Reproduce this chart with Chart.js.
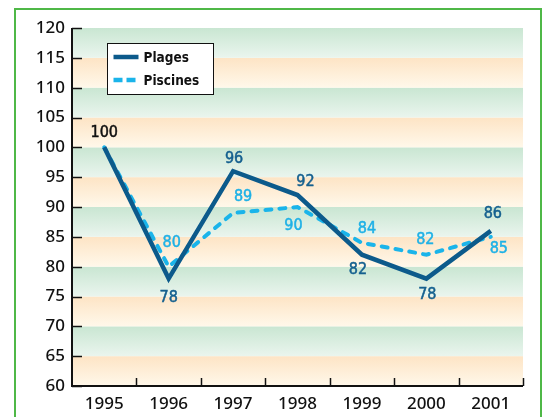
<!DOCTYPE html>
<html>
<head>
<meta charset="utf-8">
<script src="https://cdn.jsdelivr.net/npm/chart.js@4/dist/chart.umd.min.js"></script>
<style>
  html, body { margin: 0; padding: 0; background: #ffffff; overflow: hidden; }
  #wrap { position: relative; width: 542px; height: 417px; }
  #frame { position: absolute; left: 14px; top: 8px; width: 524px; height: 420px;
           border: 2px solid #4fb847; border-bottom: none; }
  canvas { position: absolute; left: 0; top: 0; }
</style>
</head>
<body>
<div id="wrap">
  <div id="frame"></div>
  <canvas id="c" width="542" height="417"></canvas>
</div>
<script>
// Fréquentation indexée (base 100 en 1995)
const years = ['1995', '1996', '1997', '1998', '1999', '2000', '2001'];
const plages = [100, 78, 96, 92, 82, 78, 86];
const piscines = [100, 80, 89, 90, 84, 82, 85];
const yTicks = [60, 65, 70, 75, 80, 85, 90, 95, 100, 105, 110, 115, 120];

const NARROW = '"Liberation Sans Narrow", "DejaVu Sans Condensed", "Liberation Sans", sans-serif';
const REGULAR = '"Noto Sans", "Liberation Sans", Arial, sans-serif';

// Where each value label sits relative to its point (dx, dy), null = not drawn
const labelOffsets = [
  [[0, -14], [0, 19], [1, -12], [8, -13], [-4, 15], [1, 16], [2, -17]],
  [null, [3, -24], [10, -16], [-4, 19], [5, -14], [-1, -15], [8, 12]]
];
const labelColors = ['#15608f', '#1fb1e6'];

// Alternating green / peach bands, each fading toward the bottom
const bandsPlugin = {
  id: 'bands',
  beforeDatasetsDraw(chart) {
    const { ctx, chartArea: a, scales: { y } } = chart;
    ctx.save();
    for (let i = 0; i < yTicks.length - 1; i++) {
      const lo = yTicks[i], hi = yTicks[i + 1];
      const top = y.getPixelForValue(hi), bot = y.getPixelForValue(lo);
      const k = (120 - hi) / 5;
      const g = ctx.createLinearGradient(0, top, 0, bot);
      if (k % 2 === 0) { g.addColorStop(0, '#c9e6d2'); g.addColorStop(1, '#eaf5ee'); }
      else { g.addColorStop(0, '#fde4c5'); g.addColorStop(1, '#fff8ea'); }
      ctx.fillStyle = g;
      ctx.fillRect(a.left, top, a.right - a.left, bot - top);
    }
    // axis lines
    ctx.strokeStyle = '#111';
    ctx.lineWidth = 2;
    ctx.beginPath();
    ctx.moveTo(a.left, a.top);
    ctx.lineTo(a.left, a.bottom);
    ctx.lineTo(a.right, a.bottom);
    ctx.stroke();
    // inward tick marks on the value axis
    ctx.lineWidth = 1.5;
    yTicks.forEach(v => {
      const py = Math.round(y.getPixelForValue(v)) + 0.5;
      ctx.beginPath();
      ctx.moveTo(a.left, py);
      ctx.lineTo(a.left + 10, py);
      ctx.stroke();
    });
    // upward tick marks between years
    const x = chart.scales.x;
    for (let i = 1; i <= years.length; i++) {
      const px = i < years.length
        ? (x.getPixelForValue(i - 1) + x.getPixelForValue(i)) / 2
        : a.right;
      ctx.beginPath();
      ctx.moveTo(Math.round(px) + 0.5, a.bottom);
      ctx.lineTo(Math.round(px) + 0.5, a.bottom - 8);
      ctx.stroke();
    }
    ctx.restore();
  }
};

// Value labels beside the points
const valueLabelsPlugin = {
  id: 'valueLabels',
  afterDatasetsDraw(chart) {
    const { ctx } = chart;
    ctx.save();
    ctx.font = '16px ' + NARROW;
    ctx.textAlign = 'center';
    ctx.textBaseline = 'middle';
    ctx.lineWidth = 0.5;
    chart.data.datasets.forEach((ds, di) => {
      const meta = chart.getDatasetMeta(di);
      meta.data.forEach((pt, i) => {
        const off = labelOffsets[di][i];
        if (!off) return;
        const shared = plages[i] === piscines[i];
        const col = shared ? '#111' : labelColors[di];
        ctx.fillStyle = col;
        ctx.strokeStyle = col;
        const tx = pt.x + off[0], ty = pt.y + off[1];
        ctx.fillText(String(ds.data[i]), tx, ty);
        ctx.strokeText(String(ds.data[i]), tx, ty);
      });
    });
    ctx.restore();
  }
};

// Boxed legend in the upper left of the plot
const boxLegendPlugin = {
  id: 'boxLegend',
  afterDraw(chart) {
    const { ctx, chartArea: a } = chart;
    const bx = a.left + 35.5, by = a.top + 15.5, bw = 106, bh = 51;
    ctx.save();
    ctx.fillStyle = '#ffffff';
    ctx.fillRect(bx, by, bw, bh);
    ctx.strokeStyle = '#111';
    ctx.lineWidth = 1;
    ctx.strokeRect(bx, by, bw, bh);
    chart.data.datasets.forEach((ds, i) => {
      const ly = by + 13.5 + i * 23;
      ctx.strokeStyle = ds.borderColor;
      ctx.lineWidth = 4.5;
      ctx.setLineDash(ds.borderDash ? [9, 4] : []);
      ctx.lineCap = 'butt';
      ctx.beginPath();
      ctx.moveTo(bx + 6, ly);
      ctx.lineTo(bx + 31, ly);
      ctx.stroke();
      ctx.setLineDash([]);
      ctx.fillStyle = '#111';
      ctx.font = 'bold 13.5px ' + NARROW;
      ctx.textAlign = 'left';
      ctx.textBaseline = 'middle';
      ctx.fillText(ds.label, bx + 36, ly + 1);
    });
    ctx.restore();
  }
};

new Chart(document.getElementById('c'), {
  type: 'line',
  data: {
    labels: years,
    datasets: [
      {
        label: 'Plages',
        data: plages,
        borderColor: '#0c5a8b',
        borderWidth: 4.5,
        borderJoinStyle: 'miter',
        pointRadius: 0,
        tension: 0,
        fill: false
      },
      {
        label: 'Piscines',
        data: piscines,
        borderColor: '#1ab4ea',
        borderWidth: 4,
        borderDash: [6, 8],
        borderCapStyle: 'round',
        pointRadius: 0,
        tension: 0,
        fill: false
      }
    ]
  },
  options: {
    responsive: false,
    animation: false,
    devicePixelRatio: 1,
    layout: { padding: { top: 28, right: 19, bottom: 0, left: 0 } },
    plugins: { legend: { display: false }, tooltip: { enabled: false } },
    scales: {
      x: {
        type: 'category',
        offset: true,
        grid: { display: false, drawTicks: false, tickLength: 0 },
        border: { display: false },
        ticks: { color: '#111', font: { family: REGULAR, size: 17, weight: 500 }, padding: 8, maxRotation: 0 },
        afterFit(s) { s.height = 31; }
      },
      y: {
        min: 60,
        max: 120,
        grid: { display: false, drawTicks: false, tickLength: 0 },
        border: { display: false },
        ticks: { stepSize: 5, color: '#111', font: { family: REGULAR, size: 17, weight: 500 }, padding: 7 },
        afterFit(s) { s.width = 72; }
      }
    }
  },
  plugins: [bandsPlugin, valueLabelsPlugin, boxLegendPlugin]
});
</script>
</body>
</html>
